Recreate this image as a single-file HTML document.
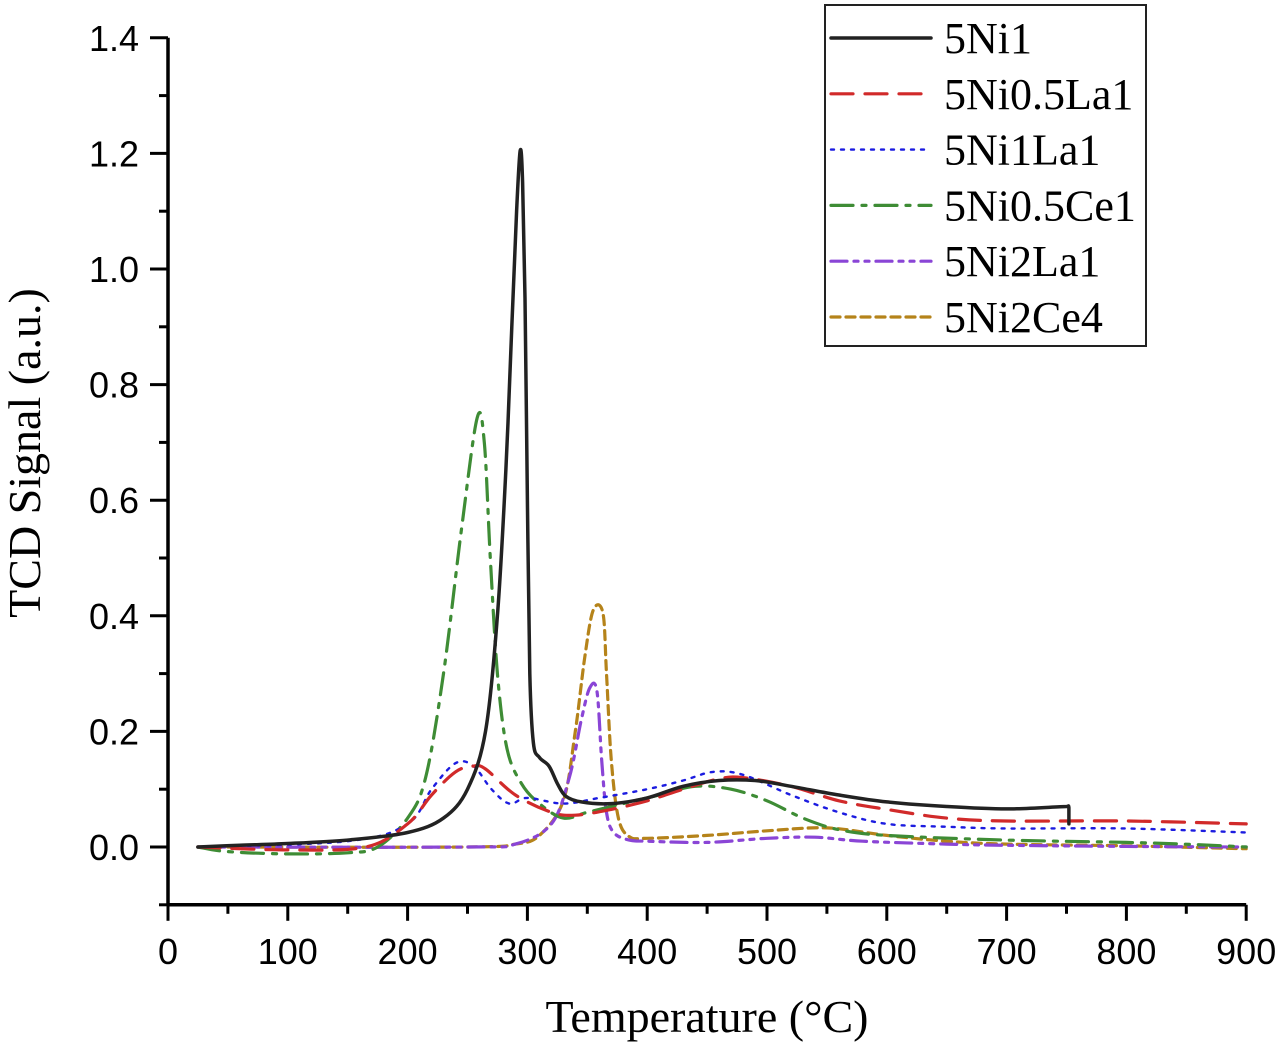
<!DOCTYPE html>
<html><head><meta charset="utf-8"><style>
html,body{margin:0;padding:0;background:#fff;}
svg{display:block;}
</style></head><body>
<svg id="chart" width="1280" height="1048" viewBox="0 0 1280 1048" xmlns="http://www.w3.org/2000/svg">
<g id="axes"></g>
<g id="series"></g>
<g id="legend"></g>
<text x="707" y="1032" text-anchor="middle" font-family="Liberation Serif, serif" font-size="46">Temperature (°C)</text>
<text transform="translate(40,453) rotate(-90)" text-anchor="middle" font-family="Liberation Serif, serif" font-size="46">TCD Signal (a.u.)</text>
</svg>
<script>
const xTicks = [0,100,200,300,400,500,600,700,800,900];
const yTicks = [0.0,0.2,0.4,0.6,0.8,1.0,1.2,1.4];
const yTickLabels = ["0.0","0.2","0.4","0.6","0.8","1.0","1.2","1.4"];
const seriesNames = ["5Ni1","5Ni0.5La1","5Ni1La1","5Ni0.5Ce1","5Ni2La1","5Ni2Ce4"];
const t_5Ni1 = [25,60,100,150,200,230,250,265,275,282,287,291,294,296,298,300,302,305,310,318,325,332,345,370,400,430,460,490,520,560,600,650,700,750,752,752];
const v_5Ni1 = [0,0.003,0.006,0.012,0.025,0.05,0.1,0.2,0.4,0.65,0.9,1.1,1.205,1.15,0.95,0.6,0.3,0.18,0.155,0.14,0.11,0.088,0.078,0.075,0.085,0.105,0.115,0.115,0.105,0.09,0.078,0.07,0.066,0.07,0.068,0.04];
const t_La05 = [25,100,165,200,220,240,255,265,290,320,340,370,400,430,460,480,520,560,600,650,700,800,900];
const v_La05 = [0,-0.005,0,0.04,0.09,0.13,0.14,0.135,0.09,0.06,0.055,0.065,0.08,0.1,0.118,0.12,0.105,0.08,0.065,0.05,0.045,0.045,0.04];
const t_La1 = [25,150,200,220,240,255,270,285,300,330,360,400,430,455,480,520,560,600,650,700,800,900];
const v_La1 = [0,0.01,0.04,0.1,0.145,0.14,0.1,0.075,0.085,0.075,0.085,0.1,0.115,0.13,0.125,0.09,0.06,0.04,0.035,0.032,0.032,0.025];
const t_Ce05 = [25,50,100,150,175,200,215,230,245,258,264,269,275,283,295,310,330,350,380,410,440,470,500,530,560,600,700,800,860,900];
const v_Ce05 = [0,-0.008,-0.012,-0.01,0,0.05,0.12,0.3,0.55,0.742,0.7,0.5,0.3,0.17,0.11,0.075,0.05,0.06,0.075,0.09,0.105,0.1,0.08,0.05,0.03,0.02,0.012,0.008,0.004,0];
const t_La2 = [25,250,290,320,335,345,352,358,362,366,372,385,400,450,500,540,580,650,700,800,900];
const v_La2 = [0,0,0.005,0.04,0.12,0.22,0.275,0.27,0.15,0.06,0.025,0.012,0.01,0.008,0.015,0.017,0.01,0.005,0.003,0.001,0];
const t_Ce4 = [25,250,290,310,330,340,348,355,363,366,370,376,385,400,450,500,550,600,650,700,800,900];
const v_Ce4 = [0,0,0.005,0.02,0.08,0.2,0.33,0.41,0.405,0.3,0.15,0.05,0.018,0.015,0.02,0.028,0.033,0.02,0.01,0.005,0.002,-0.003];

const X0=168, XS=1.198, Y0=847, YS=578;
const xs = t => X0 + t*XS;
const ys = v => Y0 - v*YS;
const NS='http://www.w3.org/2000/svg';
function mk(tag, attrs, parent){const e=document.createElementNS(NS,tag);for(const k in attrs)e.setAttribute(k,attrs[k]);parent.appendChild(e);return e;}
const axes=document.getElementById('axes');
const ax1=mk('line',{x1:xs(0),y1:ys(1.4),x2:xs(0),y2:ys(-0.1),stroke:'#000','stroke-width':3.5},axes);


const ax2=mk('line',{x1:xs(0)-1.5,y1:ys(-0.1),x2:xs(900),y2:ys(-0.1),stroke:'#000','stroke-width':3.5},axes);


yTicks.forEach((v,i)=>{
  const l=mk('line',{x1:xs(0)-18,y1:ys(v),x2:xs(0),y2:ys(v),stroke:'#000','stroke-width':3},axes);
  
  
  const m=mk('line',{x1:xs(0)-9,y1:ys(v-0.1),x2:xs(0),y2:ys(v-0.1),stroke:'#000','stroke-width':3},axes);
  
  
  const t=mk('text',{x:139,y:ys(v)+13,'text-anchor':'end','font-family':'Liberation Sans, sans-serif','font-size':36},axes);
  t.textContent=yTickLabels[i];
  
  
});
xTicks.forEach((x,i)=>{
  const l=mk('line',{x1:xs(x),y1:ys(-0.1),x2:xs(x),y2:ys(-0.1)+16,stroke:'#000','stroke-width':3},axes);
  
  
  if(i<xTicks.length-1){
    const m=mk('line',{x1:xs(x+50),y1:ys(-0.1),x2:xs(x+50),y2:ys(-0.1)+9,stroke:'#000','stroke-width':3},axes);
    
    
  }
  const t=mk('text',{x:xs(x),y:964,'text-anchor':'middle','font-family':'Liberation Sans, sans-serif','font-size':36},axes);
  t.textContent=String(x);
  
  
});
const styles=[
 {c:'#222222',w:3.5,d:''},
 {c:'#d12a2a',w:3.2,d:'22,12'},
 {c:'#1c1ce0',w:2.4,d:'3,7'},
 {c:'#3e8c35',w:3.2,d:'22,9,4,9'},
 {c:'#8a45d6',w:3.2,d:'16,7,4,7,4,7'},
 {c:'#b5831a',w:3.2,d:'9,6'}
];
const data=[[t_5Ni1,v_5Ni1],[t_La05,v_La05],[t_La1,v_La1],[t_Ce05,v_Ce05],[t_La2,v_La2],[t_Ce4,v_Ce4]];
function smoothPath(P){
  let d='M'+P[0][0].toFixed(1)+' '+P[0][1].toFixed(1);
  for(let k=0;k<P.length-1;k++){
    const p0=P[Math.max(0,k-1)],p1=P[k],p2=P[k+1],p3=P[Math.min(P.length-1,k+2)];
    let c1x=p1[0]+(p2[0]-p0[0])/6,c1y=p1[1]+(p2[1]-p0[1])/6;
    let c2x=p2[0]-(p3[0]-p1[0])/6,c2y=p2[1]-(p3[1]-p1[1])/6;
    c1x=Math.min(Math.max(c1x,p1[0]),p2[0]);c2x=Math.min(Math.max(c2x,p1[0]),p2[0]);
    d+=' C'+c1x.toFixed(1)+' '+c1y.toFixed(1)+' '+c2x.toFixed(1)+' '+c2y.toFixed(1)+' '+p2[0].toFixed(1)+' '+p2[1].toFixed(1);
  }
  return d;
}
const series=document.getElementById('series');
const order=[5,4,3,2,1,0];
order.forEach(i=>{
  const [T,V]=data[i];
  const P=T.map((t,k)=>[xs(t),ys(V[k])]);
  const p=mk('path',{d:smoothPath(P),fill:'none',stroke:styles[i].c,'stroke-width':styles[i].w,'stroke-dasharray':styles[i].d,'stroke-linecap':'round','stroke-linejoin':'round'},series);
  
  
});
const lg=document.getElementById('legend');
const box=mk('rect',{x:825,y:5,width:321,height:341,fill:'#fff',stroke:'#222','stroke-width':2},lg);


seriesNames.forEach((n,i)=>{
  const y=38+i*55.8;
  const l=mk('line',{x1:831,y1:y,x2:931,y2:y,stroke:styles[i].c,'stroke-width':styles[i].w,'stroke-dasharray':styles[i].d,'stroke-linecap':'round'},lg);
  
  
  const t=mk('text',{x:944,y:y+15,'font-family':'Liberation Serif, serif','font-size':44},lg);
  t.textContent=n;
  
  
});
</script>
</body></html>
